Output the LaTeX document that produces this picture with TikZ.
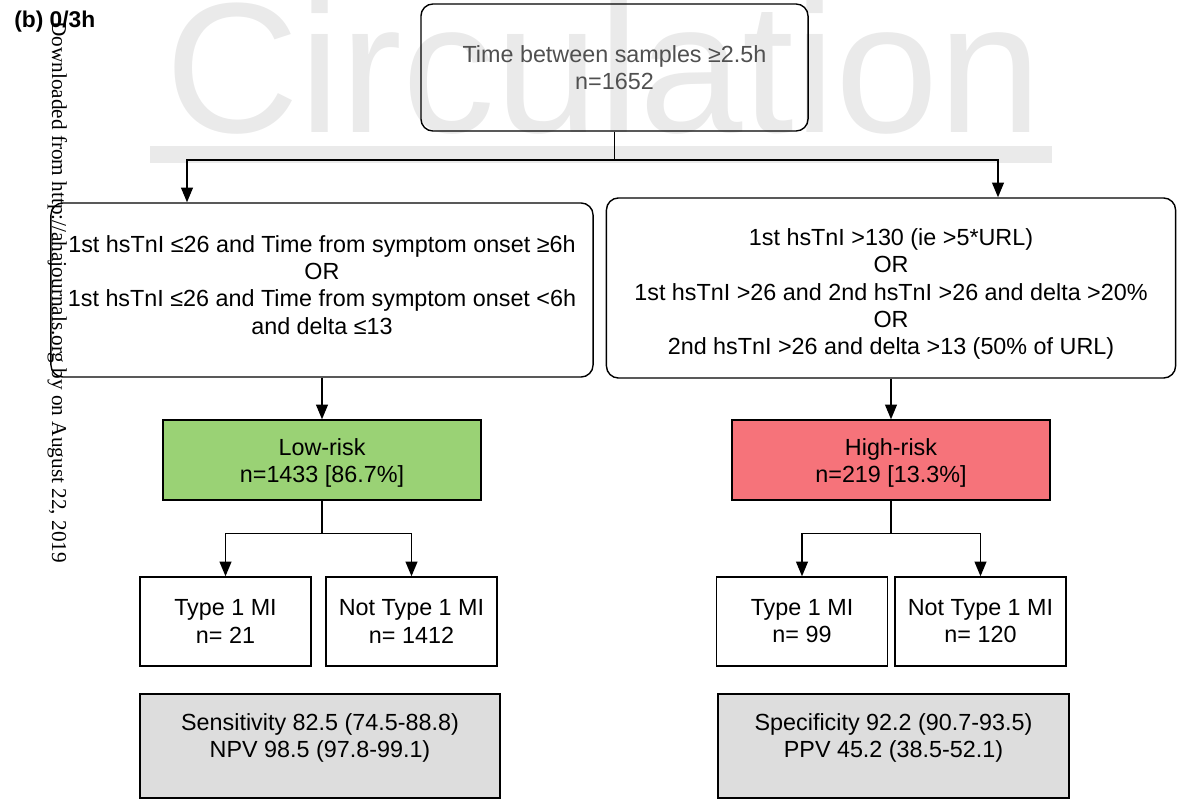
\documentclass[tikz,border=0pt]{standalone}
\usepackage{fontspec}
\setmainfont{Liberation Sans}
\newfontfamily\stampfont{Liberation Serif}
\usetikzlibrary{arrows.meta}

\definecolor{lowgreen}{RGB}{154,210,117}
\definecolor{highred}{RGB}{246,115,122}
\definecolor{statgray}{RGB}{221,221,221}
\definecolor{markgray}{RGB}{234,234,234}
\definecolor{headtext}{RGB}{80,80,80}

\tikzset{
  box/.style={draw, line width=1pt, align=center, inner sep=0pt,
    font=\fontsize{16.6}{19.3}\selectfont},
  critbox/.style={box, rounded corners=0.3cm},
  riskbox/.style={box, minimum width=7.95cm, minimum height=2cm},
  typebox/.style={box, minimum width=4.275cm, minimum height=2.225cm},
  statbox/.style={box, fill=statgray, minimum height=2.6cm},
  arrow/.style={line width=1pt, -{Triangle[length=10.5pt,width=8.5pt]}}
}

\begin{document}
\begin{tikzpicture}[x=0.025cm,y=-0.025cm]
    \useasboundingbox (0,0) rectangle (1177,800);
    % watermark and download stamp
    \fill[markgray] (150,146) rectangle (1052,163);
    \node[anchor=base west, inner sep=0pt, text=markgray,
      font=\fontsize{132}{132}\selectfont] (mark) at (165,133) {Circulation};
    \node[anchor=base west, inner sep=0pt, rotate=-90,
      font=\stampfont\fontsize{15.1}{15.1}\selectfont] (stamp) at (52,21)
      {Downloaded from http://ahajournals.org by on August 22, 2019};
    \node[anchor=west, inner sep=0pt, font=\bfseries\fontsize{16.2}{16.2}\selectfont] (tag) at (14,22) {(b) 0/3h};

    % boxes
    \node[critbox, text=headtext, minimum width=9.675cm, minimum height=3.175cm] (start) at (614.5,67.5)
      {Time between samples ≥2.5h\\n=1652};
    \node[critbox, minimum width=13.55cm, minimum height=4.35cm] (lcrit) at (322,290)
      {1st hsTnI ≤26 and Time from symptom onset ≥6h\\OR\\1st hsTnI ≤26 and Time from symptom onset <6h\\and delta ≤13\\[-12pt]~};
    \node[critbox, minimum width=14.225cm, minimum height=4.5cm] (rcrit) at (891,288)
      {~\\[1.3pt]1st hsTnI >130 (ie >5*URL)\\OR\\1st hsTnI >26 and 2nd hsTnI >26 and delta >20\%\\OR\\2nd hsTnI >26 and delta >13 (50\% of URL)};
    \node[riskbox, fill=lowgreen] (low) at (322,460) {~\\[-2.9pt]Low-risk\\n=1433 [86.7\%]};
    \node[riskbox, fill=highred] (high) at (891,460) {~\\[-2.9pt]High-risk\\n=219 [13.3\%]};
    \node[typebox] (ltype) at (225.5,621.5) {Type 1 MI\\n= 21};
    \node[typebox] (lnot) at (411.5,621.5) {Not Type 1 MI\\n= 1412};
    \node[typebox] (rtype) at (802,621.5) {Type 1 MI\\n= 99};
    \node[typebox] (rnot) at (980.5,621.5) {Not Type 1 MI\\n= 120};
    \node[statbox, minimum width=9cm] (lstat) at (320,746)
      {Sensitivity 82.5 (74.5-88.8)\\NPV 98.5 (97.8-99.1)\\[-4pt]~};
    \node[statbox, minimum width=8.775cm] (rstat) at (893.5,746)
      {Specificity 92.2 (90.7-93.5)\\PPV 45.2 (38.5-52.1)\\[-4pt]~};

    % connectors
    \coordinate (split) at (614.5,160);
    \draw[line width=1pt] (start.south) -- (split);
    \draw[arrow] (split) -| (lcrit.north -| 187,0);
    \draw[arrow] (split) -| (rcrit.north -| 998,0);
    \draw[arrow] (lcrit.south) -- (low.north);
    \draw[arrow] (rcrit.south) -- (high.north);
    \draw[line width=1pt] (low.south) -- ++(0,33) coordinate (lsplit);
    \draw[arrow] (lsplit) -| (ltype.north);
    \draw[arrow] (lsplit) -| (lnot.north);
    \draw[line width=1pt] (high.south) -- ++(0,33) coordinate (rsplit);
    \draw[arrow] (rsplit) -| (rtype.north);
    \draw[arrow] (rsplit) -| (rnot.north);
\end{tikzpicture}
\end{document}
